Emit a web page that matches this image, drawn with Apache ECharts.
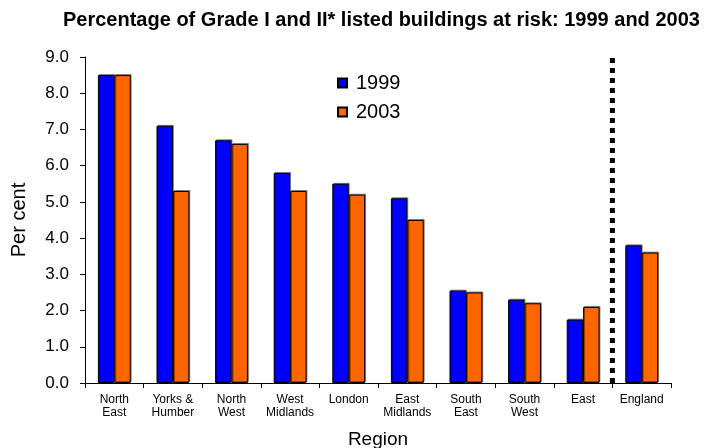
<!DOCTYPE html>
<html>
<head>
<meta charset="utf-8">
<script src="https://cdn.jsdelivr.net/npm/echarts@6/dist/echarts.min.js"></script>
<style>
  html, body { margin: 0; padding: 0; background: #fff; }
  #main { width: 717px; height: 448px; }
</style>
</head>
<body>
<div id="main"></div>
<script>
// regions and values
var regions = ['North\nEast', 'Yorks &\nHumber', 'North\nWest', 'West\nMidlands', 'London',
               'East\nMidlands', 'South\nEast', 'South\nWest', 'East', 'England'];
var y1999 = [8.5, 7.1, 6.7, 5.8, 5.5, 5.1, 2.55, 2.3, 1.75, 3.8];
var y2003 = [8.5, 5.3, 6.6, 5.3, 5.2, 4.5, 2.5, 2.2, 2.1, 3.6];
// dotted divider between regions and England (position on a hidden 0..10 axis)
var divider = [[9, 0], [9, 9]];

var font = 'Liberation Sans, Arial, sans-serif';
var chart = echarts.init(document.getElementById('main'));

var barStyle = function (c) {
  return {
    color: c,
    borderColor: '#000',
    borderWidth: 1,
    shadowColor: 'rgba(0,0,0,0.4)',
    shadowBlur: 0,
    shadowOffsetX: 1,
    shadowOffsetY: -1
  };
};

chart.setOption({
  animation: false,
  title: {
    text: 'Percentage of Grade I and II* listed buildings at risk: 1999 and 2003',
    left: 58,
    top: 5,
    textStyle: { fontFamily: font, fontSize: 20, fontWeight: 'bold', color: '#000' }
  },
  legend: {
    orient: 'vertical',
    left: 332,
    top: 68,
    icon: 'rect',
    itemWidth: 9,
    itemHeight: 9,
    itemGap: 9,
    data: ['1999', '2003'],
    textStyle: { fontFamily: font, fontSize: 20, color: '#000', padding: [0, 0, 0, 4] }
  },
  grid: { left: 85, right: 46, top: 57, bottom: 65, outerBoundsMode: 'none' },
  xAxis: [{
    type: 'category',
    data: regions,
    name: 'Region',
    nameLocation: 'middle',
    nameGap: 47,
    nameTextStyle: { fontFamily: font, fontSize: 19, color: '#000' },
    axisLine: { lineStyle: { color: '#000', width: 1 } },
    axisTick: { show: true, length: 5, lineStyle: { color: '#000' } },
    axisLabel: { fontFamily: font, fontSize: 12, color: '#000', lineHeight: 13, margin: 10, interval: 0 }
  }, {
    type: 'value',
    min: 0,
    max: 10,
    show: false
  }],
  yAxis: {
    type: 'value',
    min: 0,
    max: 9,
    interval: 1,
    name: 'Per cent',
    nameLocation: 'middle',
    nameGap: 56,
    nameTextStyle: { fontFamily: font, fontSize: 20, color: '#000' },
    splitLine: { show: false },
    axisLine: { show: true, lineStyle: { color: '#000', width: 1 } },
    axisTick: { show: true, length: 5, lineStyle: { color: '#000' } },
    axisLabel: {
      fontFamily: font, fontSize: 17, color: '#000', margin: 16,
      formatter: function (v) { return v.toFixed(1); }
    }
  },
  series: [{
    name: '1999',
    type: 'bar',
    data: y1999,
    barGap: '0%',
    barCategoryGap: '44%',
    itemStyle: barStyle('#0000ff')
  }, {
    name: '2003',
    type: 'bar',
    data: y2003,
    itemStyle: barStyle('#ff6600')
  }, {
    name: 'divider',
    type: 'line',
    xAxisIndex: 1,
    data: divider,
    symbol: 'none',
    silent: true,
    lineStyle: { color: '#000', width: 5, type: [5, 5] },
    z: 5
  }]
});
</script>
</body>
</html>
